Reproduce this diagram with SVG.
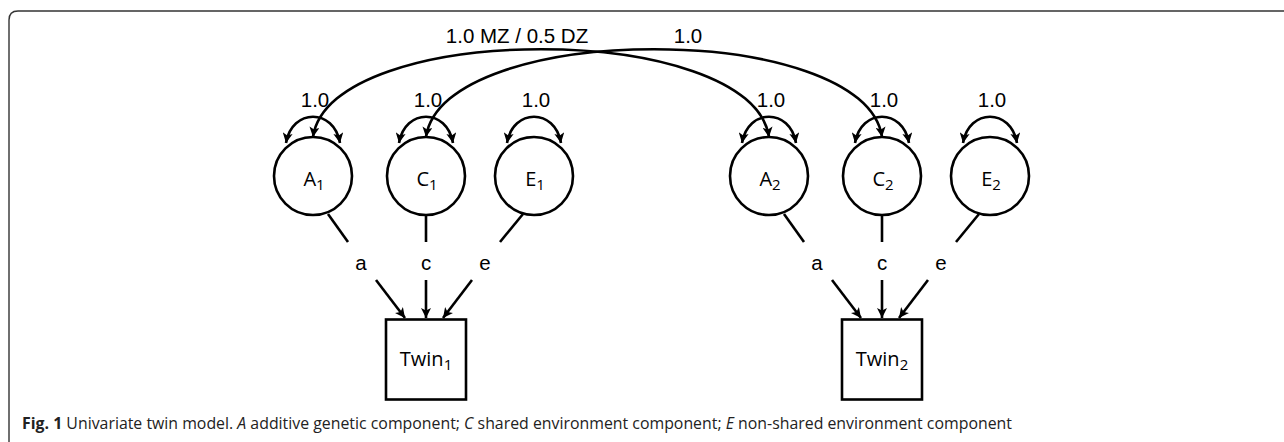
<svg xmlns="http://www.w3.org/2000/svg" width="1284" height="442" viewBox="0 0 1284 442">
<style>
.ln{fill:none;stroke:#000;stroke-width:2.6}
.nd{fill:#fff;stroke:#000;stroke-width:2.6}
.lbl{font-family:"Liberation Sans",Arial,sans-serif;font-size:20.5px;fill:#000;text-anchor:middle}
.nm{font-family:"Open Sans","Noto Sans",sans-serif;font-size:20px;fill:#000;text-anchor:middle}
.sub{font-size:15px}
.cap{font-family:"Open Sans","Noto Sans",sans-serif;font-size:15.5px;fill:#222}
</style>
<defs>
<marker id="ah" viewBox="0 0 10 10" refX="10" refY="5" markerWidth="12" markerHeight="10" markerUnits="userSpaceOnUse" orient="auto-start-reverse">
<path d="M0,0 L10,5 L0,10 L2.5,5 Z" fill="#000"/>
</marker>
</defs>
<path d="M9,442 V20 Q9,11 18,11 H1284" fill="none" stroke="#333" stroke-width="1.4"/>
<g id="connectors">
<path class="ln" d="M313,137 C330,20 752,20 769,137" marker-start="url(#ah)" marker-end="url(#ah)"/>
<path class="ln" d="M426,137 C443,20 865,20 882,137" marker-start="url(#ah)" marker-end="url(#ah)"/>
<text class="lbl" x="517" y="43" font-size="21.5">1.0 MZ / 0.5 DZ</text>
<text class="lbl" x="688" y="43" font-size="21.5">1.0</text>
<path class="ln" d="M286,143 C292,108 334,108 340,143" marker-start="url(#ah)" marker-end="url(#ah)"/>
<path class="ln" d="M399,143 C405,108 447,108 453,143" marker-start="url(#ah)" marker-end="url(#ah)"/>
<path class="ln" d="M507,143 C513,108 555,108 561,143" marker-start="url(#ah)" marker-end="url(#ah)"/>
<path class="ln" d="M742,143 C748,108 790,108 796,143" marker-start="url(#ah)" marker-end="url(#ah)"/>
<path class="ln" d="M855,143 C861,108 903,108 909,143" marker-start="url(#ah)" marker-end="url(#ah)"/>
<path class="ln" d="M963,143 C969,108 1011,108 1017,143" marker-start="url(#ah)" marker-end="url(#ah)"/>
<text class="lbl" x="315" y="107">1.0</text>
<text class="lbl" x="428" y="107">1.0</text>
<text class="lbl" x="536" y="107">1.0</text>
<text class="lbl" x="771" y="107">1.0</text>
<text class="lbl" x="884" y="107">1.0</text>
<text class="lbl" x="992" y="107">1.0</text>
<path class="ln" d="M328,214 L348,242"/>
<path class="ln" d="M376,280 L405,318" marker-end="url(#ah)"/>
<path class="ln" d="M426,215 L426,242"/>
<path class="ln" d="M426,280 L426,318" marker-end="url(#ah)"/>
<path class="ln" d="M523,214 L500,242"/>
<path class="ln" d="M472,280 L443,318" marker-end="url(#ah)"/>
<path class="ln" d="M784,214 L804,242"/>
<path class="ln" d="M832,280 L861,318" marker-end="url(#ah)"/>
<path class="ln" d="M882,215 L882,242"/>
<path class="ln" d="M882,280 L882,318" marker-end="url(#ah)"/>
<path class="ln" d="M979,214 L956,242"/>
<path class="ln" d="M928,280 L899,318" marker-end="url(#ah)"/>
<text class="lbl" x="361" y="270">a</text>
<text class="lbl" x="426" y="270">c</text>
<text class="lbl" x="485" y="270">e</text>
<text class="lbl" x="817" y="270">a</text>
<text class="lbl" x="882" y="270">c</text>
<text class="lbl" x="941" y="270">e</text>
</g>
<g id="A1"><circle class="nd" cx="313" cy="176" r="39"/><text class="nm" x="314" y="186">A<tspan class="sub" dy="4">1</tspan></text></g>
<g id="C1"><circle class="nd" cx="426" cy="176" r="39"/><text class="nm" x="427" y="186">C<tspan class="sub" dy="4">1</tspan></text></g>
<g id="E1"><circle class="nd" cx="534" cy="176" r="39"/><text class="nm" x="535" y="186">E<tspan class="sub" dy="4">1</tspan></text></g>
<g id="A2"><circle class="nd" cx="769" cy="176" r="39"/><text class="nm" x="770" y="186">A<tspan class="sub" dy="4">2</tspan></text></g>
<g id="C2"><circle class="nd" cx="882" cy="176" r="39"/><text class="nm" x="883" y="186">C<tspan class="sub" dy="4">2</tspan></text></g>
<g id="E2"><circle class="nd" cx="990" cy="176" r="39"/><text class="nm" x="991" y="186">E<tspan class="sub" dy="4">2</tspan></text></g>
<g id="Twin1"><rect class="nd" x="386" y="319.5" width="80" height="80" stroke-width="3"/><text class="nm" x="426" y="366">Twin<tspan class="sub" dy="4">1</tspan></text></g>
<g id="Twin2"><rect class="nd" x="842" y="319.5" width="80" height="80" stroke-width="3"/><text class="nm" x="882" y="366">Twin<tspan class="sub" dy="4">2</tspan></text></g>
<text class="cap" x="22" y="429" textLength="990" lengthAdjust="spacingAndGlyphs"><tspan font-weight="bold">Fig. 1</tspan> Univariate twin model. <tspan font-style="italic">A</tspan> additive genetic component; <tspan font-style="italic">C</tspan> shared environment component; <tspan font-style="italic">E</tspan> non-shared environment component</text>
</svg>
